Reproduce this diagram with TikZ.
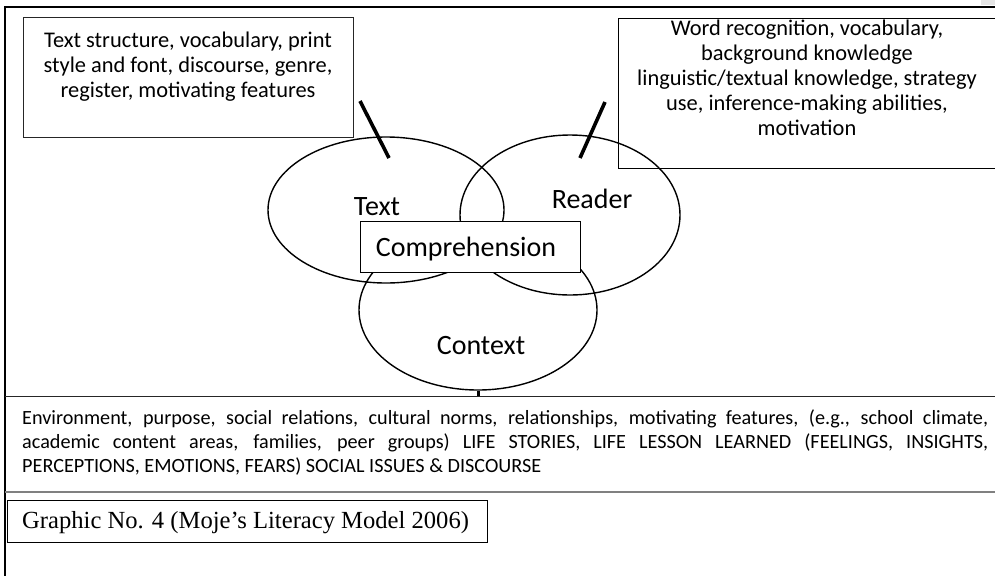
\documentclass[tikz,border=0pt]{standalone}
\usepackage{fontspec}
\setmainfont{Carlito}
\newfontfamily\capfont{Liberation Serif}
\usetikzlibrary{shapes.geometric}

\begin{document}
\begin{tikzpicture}[x=1pt, y=-1pt,
  ring/.style={draw=black, line width=1.4pt, ellipse, inner sep=0pt},
  infobox/.style={draw=black!85, line width=1pt, rectangle, inner sep=0pt, anchor=north west},
  boxtext/.style={font=\fontsize{22.4}{25}\selectfont, align=center, inner sep=0pt, anchor=north},
  setlabel/.style={font=\fontsize{28}{30}\selectfont, inner sep=0pt, anchor=base},
  tickline/.style={line width=3.6pt},
]
\useasboundingbox (0,0) rectangle (995,576);
\clip (0,0) rectangle (995,576);

% page frame
\fill[black!10] (981,0) rectangle (995,5);
\draw[line width=1.5pt] (995,7) -- (5,7) -- (5,576);

% descriptor boxes
\node[infobox, minimum width=330pt, minimum height=120pt] (textbox) at (23,17) {};
\node[boxtext] (textinfo) at (188,32)
  {Text structure, vocabulary, print\\style and font, discourse, genre,\\register, motivating features};

\node[infobox, draw=black, line width=1.3pt, minimum width=390pt, minimum height=150pt] (readerbox) at (618,18) {};
\node[boxtext] (readerinfo) at (807,20)
  {Word recognition, vocabulary,\\background knowledge\\linguistic/textual knowledge, strategy\\use, inference-making abilities,\\motivation};

% the three overlapping sets
\node[ring, minimum width=236pt, minimum height=146pt] (textset) at (386,210) {};
\node[ring, minimum width=220pt, minimum height=160pt] (readerset) at (570,215) {};
\node[ring, minimum width=238pt, minimum height=160pt] (contextset) at (478,310) {};

% ticks linking the sets to their descriptors
\coordinate (texttickA) at (360,101);
\coordinate (texttickB) at (389,158);
\coordinate (readertickA) at (605,102);
\coordinate (readertickB) at (580,158);
\coordinate (contextfoot) at (478,396);
\draw[tickline] (texttickA) -- (texttickB);
\draw[tickline] (readertickA) -- (readertickB);
\draw[line width=3pt] (contextset.south) -- (contextfoot);

% set labels
\node[setlabel] (textlabel) at (377,215) {Text};
\node[setlabel] (readerlabel) at (592,208) {Reader};
\node[setlabel] (contextlabel) at (481,354) {Context};

% centre box
\node[draw=black, line width=1pt, fill=white, anchor=north west, minimum width=220pt, minimum height=51pt, inner sep=0pt] (compbox) at (360,221) {};
\node[setlabel] (complabel) at (466,256) {Comprehension};

% context band
\draw[line width=1pt, black!85] (5,396) -- (995,396);
\draw[line width=2.5pt, black!50] (5,492) -- (995,492);
\node[anchor=north west, text width=966pt, align=justify, inner sep=0pt,
      font=\fontsize{20.2}{24}\selectfont] (contextinfo) at (22,410)
  {\tolerance=9999 Environment, purpose, social relations, cultural norms, relationships, motivating features, (e.g., school climate,\linebreak
   academic content areas, families, peer groups) LIFE STORIES, LIFE LESSON LEARNED (FEELINGS, INSIGHTS,\linebreak
   PERCEPTIONS, EMOTIONS, FEARS) SOCIAL ISSUES \& DISCOURSE};

% caption
\node[draw=black, line width=1.4pt, anchor=north west, minimum width=480pt, minimum height=42pt, inner sep=0pt] (captionbox) at (7,500) {};
\node[font=\capfont\fontsize{24.6}{26}\selectfont, anchor=base west, inner sep=0pt] (captiontext) at (22,528)
  {Graphic No. 4 (Moje’s Literacy Model 2006)};
\end{tikzpicture}
\end{document}
